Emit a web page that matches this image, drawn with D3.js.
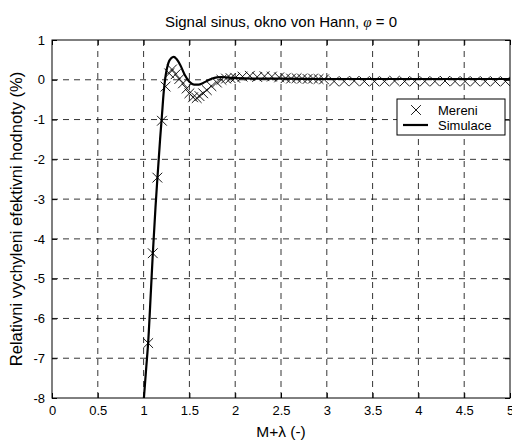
<!DOCTYPE html>
<html lang="en">
<head>
    <meta charset="UTF-8">
    <title>Signal sinus, okno von Hann</title>
    <style>
        body { margin: 0; background: #fff; }
        text { font-family: Arial, "Liberation Sans", sans-serif; fill: #000; }
        .tick text { font-size: 13px; }
        .tick line { stroke: #000; }
        .grid line { stroke: #000; stroke-dasharray: 6,5; stroke-width: 0.8; }
    </style>
</head>
<body>
    <div id="chart"></div>
    <script src="https://d3js.org/d3.v7.min.js"></script>
    <script>
        // simulace (solid line)
        const simX = [1.0, 1.03, 1.05, 1.08, 1.1, 1.13, 1.15, 1.18, 1.2, 1.22, 1.24, 1.27, 1.3, 1.33, 1.36, 1.4, 1.45, 1.5,
            1.55, 1.6, 1.65, 1.7, 1.75, 1.8, 1.85, 1.9, 1.95, 2.0, 2.2, 2.5, 3.0, 3.5, 4.0, 4.5, 5.0];
        const simY = [-8.1, -7.2, -6.6, -5.3, -4.4, -3.2, -2.5, -1.5, -0.9, -0.3, 0.1, 0.42, 0.54, 0.575, 0.52, 0.37, 0.12, -0.05,
            -0.12, -0.12, -0.08, -0.02, 0.03, 0.06, 0.07, 0.06, 0.05, 0.04, 0.03, 0.03, 0.02, 0.02, 0.02, 0.02, 0.02];

        // mereni (x markers)
        const merX = [1.05, 1.1, 1.15, 1.2, 1.24, 1.28, 1.31, 1.35, 1.39, 1.43, 1.47, 1.5, 1.54, 1.58, 1.61, 1.65, 1.69, 1.74,
            1.8, 1.85, 1.9, 1.95, 2.0, 2.08, 2.16, 2.24, 2.32, 2.4, 2.48, 2.55, 2.61, 2.67, 2.73, 2.79, 2.85, 2.91, 2.97,
            3.08, 3.19, 3.3, 3.41, 3.52, 3.63, 3.74, 3.85, 3.96, 4.07, 4.18, 4.29, 4.4, 4.51, 4.62, 4.73, 4.84, 4.95];
        const merY = [-6.62, -4.36, -2.46, -1.03, -0.17, 0.16, 0.26, 0.14, 0.02, -0.09, -0.22, -0.34, -0.44, -0.46, -0.41, -0.34, -0.26, -0.16,
            -0.07, 0.0, 0.03, 0.04, 0.05, 0.08, 0.1, 0.07, 0.09, 0.08, 0.06, 0.04, 0.03, 0.04, 0.03, 0.02, 0.03, 0.02, 0.01,
            -0.04, -0.04, -0.03, -0.04, -0.04, -0.04, -0.03, -0.04, -0.04, -0.04, -0.04, -0.03, -0.04, -0.04, -0.04, -0.04, -0.04, -0.04];

        const xTicks = [0, 0.5, 1, 1.5, 2, 2.5, 3, 3.5, 4, 4.5, 5];
        const yTicks = [1, 0, -1, -2, -3, -4, -5, -6, -7, -8];
        const legendLabels = ["Mereni", "Simulace"];

        const W = 512, H = 441;
        const plot = { left: 52, right: 510, top: 40, bottom: 398 };

        const svg = d3.select("#chart").append("svg")
            .attr("width", W)
            .attr("height", H);

        const x = d3.scaleLinear().domain([0, 5]).range([plot.left, plot.right]);
        const y = d3.scaleLinear().domain([-8, 1]).range([plot.bottom, plot.top]);

        // grid
        const grid = svg.append("g").attr("class", "grid");
        grid.selectAll(".gx")
            .data(xTicks.slice(1, -1))
            .enter().append("line")
            .attr("x1", d => x(d)).attr("x2", d => x(d))
            .attr("y1", plot.bottom).attr("y2", plot.top);
        grid.selectAll(".gy")
            .data(yTicks.slice(1, -1))
            .enter().append("line")
            .attr("x1", plot.left).attr("x2", plot.right)
            .attr("y1", d => y(d)).attr("y2", d => y(d));

        // axes, ticks pointing inward like matlab, plain hyphen for minus
        const fmt = d => String(d);
        svg.append("g")
            .attr("transform", `translate(0,${plot.bottom})`)
            .call(d3.axisBottom(x).tickValues(xTicks).tickSize(-5).tickPadding(8).tickFormat(fmt))
            .call(g => g.select(".domain").remove());
        svg.append("g")
            .attr("transform", `translate(0,${plot.top})`)
            .call(d3.axisTop(x).tickValues(xTicks).tickSize(-5).tickFormat(""))
            .call(g => g.select(".domain").remove());
        svg.append("g")
            .attr("transform", `translate(${plot.left},0)`)
            .call(d3.axisLeft(y).tickValues(yTicks).tickSize(-5).tickPadding(7).tickFormat(fmt))
            .call(g => g.select(".domain").remove());
        svg.append("g")
            .attr("transform", `translate(${plot.right},0)`)
            .call(d3.axisRight(y).tickValues(yTicks).tickSize(-5).tickFormat(""))
            .call(g => g.select(".domain").remove());
        svg.selectAll(".tick text").attr("font-family", null).attr("font-size", null);

        svg.append("rect")
            .attr("x", plot.left).attr("y", plot.top)
            .attr("width", plot.right - plot.left)
            .attr("height", plot.bottom - plot.top)
            .attr("fill", "none")
            .attr("stroke", "#000")
            .attr("stroke-width", 1);

        svg.append("clipPath").attr("id", "clip")
            .append("rect")
            .attr("x", plot.left).attr("y", plot.top)
            .attr("width", plot.right - plot.left)
            .attr("height", plot.bottom - plot.top);

        const body = svg.append("g").attr("clip-path", "url(#clip)");

        const cross = d3.symbol().type(d3.symbolTimes).size(64);

        body.selectAll(".mer")
            .data(merX.map((d, i) => [d, merY[i]]))
            .enter().append("path")
            .attr("class", "mer")
            .attr("transform", d => `translate(${x(d[0])},${y(d[1])})`)
            .attr("d", cross)
            .attr("fill", "none")
            .attr("stroke", "#000")
            .attr("stroke-width", 0.9);

        const line = d3.line()
            .x(d => x(d[0]))
            .y(d => y(d[1]))
            .curve(d3.curveMonotoneX);

        body.append("path")
            .datum(simX.map((d, i) => [d, simY[i]]))
            .attr("d", line)
            .attr("fill", "none")
            .attr("stroke", "#000")
            .attr("stroke-width", 2.2);

        // title and labels
        const title = svg.append("text")
            .attr("x", (plot.left + plot.right) / 2)
            .attr("y", 27)
            .attr("text-anchor", "middle")
            .attr("font-size", 15);
        title.append("tspan").text("Signal sinus, okno von Hann,  ");
        title.append("tspan")
            .attr("font-family", "'Liberation Serif', serif")
            .attr("font-style", "italic")
            .text("\u03c6");
        title.append("tspan").text(" = 0");

        svg.append("text")
            .attr("x", (plot.left + plot.right) / 2)
            .attr("y", 437)
            .attr("text-anchor", "middle")
            .attr("font-size", 15.5)
            .text("M+\u03bb (-)");

        svg.append("text")
            .attr("transform", `translate(22,${(plot.top + plot.bottom) / 2}) rotate(-90)`)
            .attr("text-anchor", "middle")
            .attr("font-size", 16.5)
            .text("Relativni vychyleni efektivni hodnoty (%)");

        // legend
        const leg = svg.append("g").attr("transform", "translate(397,99)");
        leg.append("rect")
            .attr("width", 108).attr("height", 36)
            .attr("fill", "#fff")
            .attr("stroke", "#000");
        leg.append("path")
            .attr("transform", "translate(19,11)")
            .attr("d", cross)
            .attr("fill", "none")
            .attr("stroke", "#000")
            .attr("stroke-width", 0.9);
        leg.append("line")
            .attr("x1", 6).attr("x2", 31)
            .attr("y1", 26).attr("y2", 26)
            .attr("stroke", "#000")
            .attr("stroke-width", 2.2);
        leg.selectAll(".lt")
            .data(legendLabels)
            .enter().append("text")
            .attr("x", 41)
            .attr("y", (d, i) => 15.5 + i * 15)
            .attr("font-size", 13)
            .text(d => d);
    </script>
</body>
</html>
